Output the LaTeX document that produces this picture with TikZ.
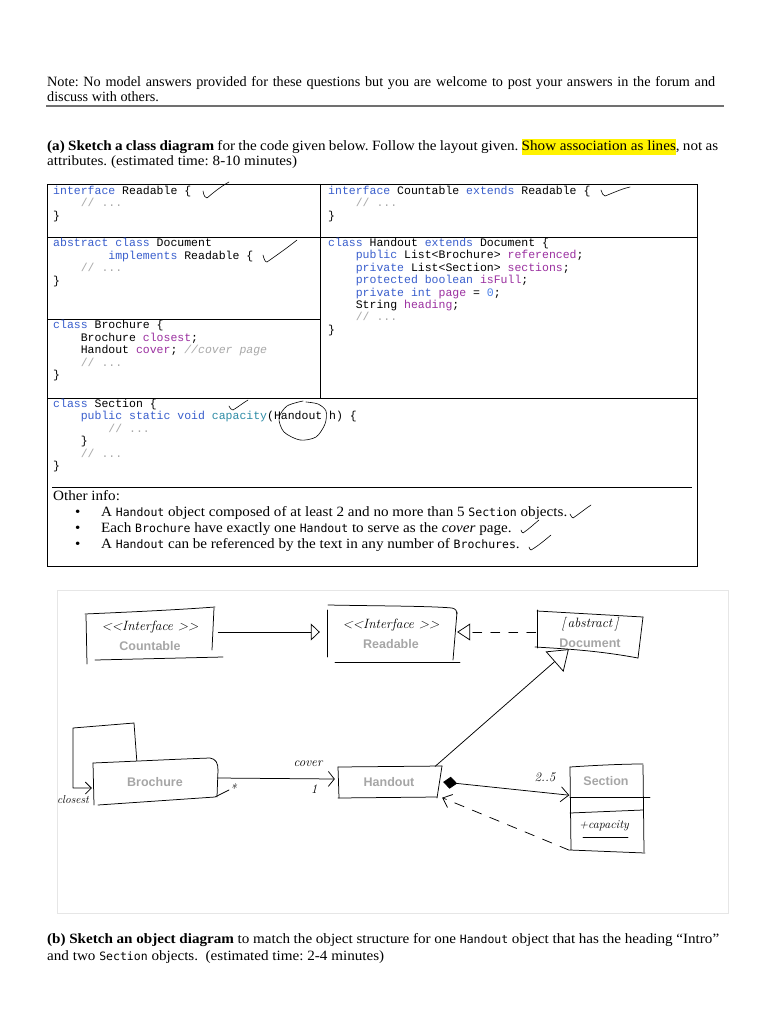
\documentclass[tikz,border=0pt]{standalone}
\usepackage{fontspec}
\setmainfont{Liberation Serif}
\newfontfamily\cambria{Liberation Serif}[FakeStretch=1.065]
\newfontfamily\codefont{Liberation Mono}
\newfontfamily\icfont{DejaVu Sans Mono}
\newfontfamily\labelfont{Liberation Sans}
\newfontfamily\handfont{Latin Modern Roman}
\usetikzlibrary{arrows.meta,calc}
\definecolor{kwc}{HTML}{3A5FCD}
\definecolor{flc}{HTML}{9B30A0}
\definecolor{cmc}{HTML}{A8A8A8}
\definecolor{mtc}{HTML}{2E8CA6}
\definecolor{nmc}{HTML}{4A80E8}
\definecolor{lblc}{HTML}{A6A6A6}
\definecolor{framec}{HTML}{E6E6E6}
\definecolor{rulec}{HTML}{707070}
\setlength{\fboxsep}{0pt}
\frenchspacing
\newcommand{\kw}[1]{\textcolor{kwc}{#1}}
\newcommand{\fl}[1]{\textcolor{flc}{#1}}
\newcommand{\cm}[1]{\textcolor{cmc}{#1}}
\newcommand{\mt}[1]{\textcolor{mtc}{#1}}
\newcommand{\nm}[1]{\textcolor{nmc}{#1}}
\newcommand{\ind}[1]{\hspace*{#1\dimexpr0.6em\relax}}
\newcommand{\ic}[1]{{\icfont\fontsize{11.5}{14}\selectfont #1}}
\newcommand{\stereo}[1]{{\handfont\itshape\fontsize{13.5}{14}\selectfont #1}}
\newcommand{\cname}[1]{{\labelfont\bfseries\fontsize{12.5}{14}\selectfont\color{lblc}#1}}
\newcounter{lnno}
\newcommand{\cl}[3]{\stepcounter{lnno}\node[codel] (cl\thelnno) at (#1,#2) {#3};}
\newcommand{\tl}[3]{\stepcounter{lnno}\node[txtl] (tl\thelnno) at (#1,#2) {#3};}
\newcommand{\ctl}[3]{\stepcounter{lnno}\node[ctxtl] (tl\thelnno) at (#1,#2) {#3};}
\tikzset{
  hand/.style={line width=0.75pt, line cap=round, line join=round},
  chk/.style={line width=0.6pt, line cap=round, line join=round},
  tbl/.style={line width=0.8pt},
  cls/.style={inner sep=0pt, align=center, font=\fontsize{12}{20}\selectfont},
  handtxt/.style={inner sep=0pt, font=\handfont\itshape\fontsize{13}{14}\selectfont},
  codel/.style={anchor=base west, inner sep=0pt, font=\codefont\fontsize{11.5}{12.5}\selectfont},
  txtl/.style={anchor=base west, inner sep=0pt, font=\frenchspacing\fontsize{14.2}{16}\selectfont},
  ctxtl/.style={anchor=base west, inner sep=0pt, font=\frenchspacing\cambria\fontsize{14.2}{16}\selectfont},
}
\begin{document}
\begin{tikzpicture}[x=1pt,y=-1pt]
\useasboundingbox (0,0) rectangle (768,1024);
\fill[white] (0,0) rectangle (768,1024);

% ---------- header ----------
\tl{47}{86.5}{\makebox[668pt][s]{Note: No model answers provided for these questions but you are welcome to post your answers in the forum and}}
\tl{47}{101.5}{discuss with others.}
\draw[rulec, line width=1.5pt] (46,106) -- (724,106);
\ctl{47}{150.5}{\makebox[671pt][s]{\textbf{(a) Sketch a class diagram} for the code given below. Follow the layout given. \colorbox{yellow}{\strut Show association as lines}, not as}}
\ctl{47}{165.5}{attributes. (estimated time: 8-10 minutes)}

% ---------- code table ----------
\draw[tbl] (47,184) rectangle (697,566);
\draw[tbl] (47,237) -- (697,237);
\draw[tbl] (320,184) -- (320,398);
\draw[tbl] (47,319) -- (320,319);
\draw[tbl] (47,398) -- (697,398);
\draw[line width=1pt] (52,487) -- (692,487);

\cl{53}{194.5}{\kw{interface} Readable \{}
\cl{53}{207}{\ind{4}\cm{// ...}}
\cl{53}{219.5}{\}}
\cl{328}{194.5}{\kw{interface} Countable \kw{extends} Readable \{}
\cl{328}{207}{\ind{4}\cm{// ...}}
\cl{328}{219.5}{\}}

\cl{53}{246.5}{\kw{abstract} \kw{class} Document}
\cl{53}{259}{\ind{8}\kw{implements} Readable \{}
\cl{53}{271.5}{\ind{4}\cm{// ...}}
\cl{53}{284}{\}}

\cl{53}{328.5}{\kw{class} Brochure \{}
\cl{53}{341}{\ind{4}Brochure \fl{closest};}
\cl{53}{353.5}{\ind{4}Handout \fl{cover}; \cm{\itshape //cover page}}
\cl{53}{366}{\ind{4}\cm{// ...}}
\cl{53}{378.5}{\}}

\cl{328}{246.5}{\kw{class} Handout \kw{extends} Document \{}
\cl{328}{258.9}{\ind{4}\kw{public} List<Brochure> \fl{referenced};}
\cl{328}{271.3}{\ind{4}\kw{private} List<Section> \fl{sections};}
\cl{328}{283.7}{\ind{4}\kw{protected} \kw{boolean} \fl{isFull};}
\cl{328}{296.1}{\ind{4}\kw{private} \kw{int} \fl{page} = \nm{0};}
\cl{328}{308.5}{\ind{4}String \fl{heading};}
\cl{328}{320.9}{\ind{4}\cm{// ...}}
\cl{328}{333.3}{\}}

\cl{53}{407.5}{\kw{class} Section \{}
\cl{53}{419.9}{\ind{4}\kw{public} \kw{static} \kw{void} \mt{capacity}(Handout h) \{}
\cl{53}{432.3}{\ind{8}\cm{// ...}}
\cl{53}{444.7}{\ind{4}\}}
\cl{53}{457.1}{\ind{4}\cm{// ...}}
\cl{53}{469.5}{\}}

% other info
\ctl{53}{500}{Other info:}
\ctl{75}{516.5}{•}
\ctl{75}{532.5}{•}
\ctl{75}{548.5}{•}
\ctl{101}{516.5}{A \ic{Handout} object composed of at least 2 and no more than 5 \ic{Section} objects.}
\ctl{101}{532.5}{Each \ic{Brochure} have exactly one \ic{Handout} to serve as the \textit{cover} page.}
\ctl{101}{548.5}{A \ic{Handout} can be referenced by the text in any number of \ic{Brochures}.}

% hand marks on the table
\draw[chk] (203,191) .. controls (204,196) and (205,198) .. (207,198) .. controls (213,193) and (220,187) .. (229,182);
\draw[chk] (263,255) .. controls (264,259) and (265,262) .. (267,262) .. controls (277,255) and (287,248) .. (297,240);
\draw[chk] (601,190) .. controls (602,193) and (603,196) .. (605,196) .. controls (613,193) and (621,189) .. (630,187);
\draw[chk] (229,406) .. controls (230,408) and (231,410) .. (233,410) .. controls (238,407) and (243,403) .. (248,400);
\draw[chk] plot[smooth] coordinates {(303,401) (287,406) (279,418) (284,432) (300,440) (316,437) (325,424) (326,411) (318,404) (306,402)};
\draw[chk] (570,514) .. controls (571,516) and (572,518) .. (573,518) .. controls (579,514) and (585,509) .. (591,505);
\draw[chk] (521,530) .. controls (522,532) and (522,533) .. (523,533) .. controls (529,529) and (534,524) .. (539,520);
\draw[chk] (529,547) .. controls (530,549) and (530,550) .. (531,550) .. controls (538,546) and (545,540) .. (551,535);

% ---------- sketched class diagram ----------
\draw[framec, line width=1pt] (57,590) rectangle (728,913);

\node[cls, minimum width=128pt, minimum height=47pt] (countable) at (150,636) {\stereo{\textless\textless Interface \textgreater\textgreater}\\ \cname{Countable}};
\node[cls, minimum width=128pt, minimum height=50pt] (readable) at (391,634) {\stereo{\textless\textless Interface \textgreater\textgreater}\\ \cname{Readable}};
\node[cls, minimum width=104pt, minimum height=40pt] (document) at (590,632) {\stereo{[\,abstract\,]}\\ \cname{Document}};
\node[cls, minimum width=124pt, minimum height=40pt] (brochure) at (155,782) {\cname{Brochure}};
\node[cls, minimum width=102pt, minimum height=31pt] (handout) at (389,782) {\cname{Handout}};
\node[cls, minimum width=73pt, minimum height=30pt] (section) at (606,781) {\cname{Section}};

% sketched outlines
\draw[hand] (86,615) -- (87,664);
\draw[hand] (85,614) .. controls (130,612) and (175,610) .. (215,607);
\draw[hand] (214,608) -- (212,650);
\draw[hand] (95,660) -- (223,657);

\draw[hand] (327,610) -- (327,657);
\draw[hand] (328,605) .. controls (380,606) and (430,606) .. (452,608) .. controls (456,609) and (457,611) .. (457,614);
\draw[hand] (457,612) -- (453,660);
\draw[hand] (335,662) -- (460,662);

\draw[hand] (537,610) -- (537,648);
\draw[hand] (537,611) -- (643,617);
\draw[hand] (643,617) -- (638,658);
\draw[hand] (535,647) .. controls (570,649) and (600,651) .. (638,658);

\draw[hand] (93,763) -- (94,805);
\draw[hand] (93,763) .. controls (140,761) and (180,759) .. (210,758) .. controls (216,759) and (218,763) .. (218,770);
\draw[hand] (218,770) -- (217,797);
\draw[hand] (98,805) -- (215,797) -- (229,790);

\draw[hand] (338,767) -- (339,798);
\draw[hand] (338,767) -- (442,766);
\draw[hand] (442,766) -- (437,798);
\draw[hand] (338,798) -- (437,797);

\draw[hand] (570,767) -- (571,850);
\draw[hand] (570,767) .. controls (600,765) and (625,764) .. (643,764);
\draw[hand] (643,765) -- (644,852);
\draw[hand] (570,850) -- (645,853);
\draw[hand] (570,797) -- (650,797);
\draw[hand] (570,813) -- (643,810);

% connectors
\draw[hand, -{Triangle[open, length=9pt, width=17pt, line width=0.75pt]}] ($(countable.east)+(4,-4)$) -- ($(readable.west)+(-7,-2)$);
\draw[hand, dash pattern=on 9pt off 9pt, -{Triangle[open, length=13pt, width=17pt, line width=0.75pt]}] ($(document.west)+(-2,0)$) -- ($(readable.east)+(2,-2)$);
\draw[hand, -{Triangle[open, length=19pt, width=27pt, line width=0.75pt]}] ($(handout.north east)+(-5,0)$) -- ($(document.south west)+(31,-3)$);
\draw[hand, -{Straight Barb[length=6pt, width=15pt]}] ($(brochure.east)+(0,-4)$) -- ($(handout.west)+(-3,-3)$);
\draw[hand, -{Straight Barb[length=6pt, width=12pt]}] ($(brochure.north west)+(44,-1)$) -- (134,723) -- (73,728) -- (73,788) -- ($(brochure.west)+(-1,6)$);
\draw[hand, {Diamond[fill=black, length=14pt, width=12pt]}-{Straight Barb[length=8pt, width=15pt]}] ($(handout.east)+(3,0)$) -- ($(section.south west)+(0,-1)$);
\draw[hand, dash pattern=on 10pt off 9pt, -{Straight Barb[length=8pt, width=14pt]}] ($(section.south west)+(0,54)$) -- ($(handout.south east)+(2,0)$);

% sketched labels
\node[handtxt] (lcover) at (308,764) {cover};
\node[handtxt] (lone) at (314,789) {1};
\node[handtxt] (lstar) at (233,789) {*};
\node[handtxt, font=\handfont\itshape\fontsize{11.5}{12}\selectfont] (lclosest) at (73,800) {closest};
\node[handtxt] (lmult) at (545,777) {2..5};
\node[handtxt, font=\handfont\itshape\fontsize{12}{12}\selectfont] (lcap) at (604,826) {+capacity};
\draw[hand] (583,837) -- (628,837);

% ---------- part (b) ----------
\ctl{47}{943.5}{\makebox[672pt][s]{\textbf{(b) Sketch an object diagram} to match the object structure for one \ic{Handout} object that has the heading “Intro”}}
\ctl{47}{960.5}{and two \ic{Section} objects.\ \ (estimated time: 2-4 minutes)}
\end{tikzpicture}
\end{document}
